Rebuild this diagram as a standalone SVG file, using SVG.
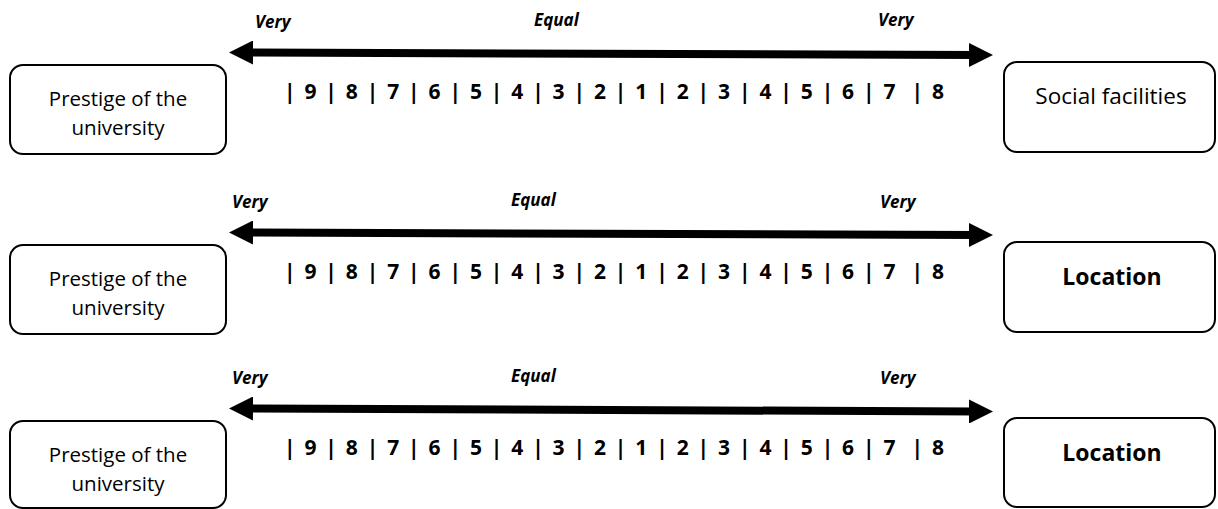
<svg xmlns="http://www.w3.org/2000/svg" width="1218" height="509" viewBox="0 0 1218 509">
  <defs>
    <marker id="head" markerUnits="userSpaceOnUse" viewBox="0 0 24 24" markerWidth="24" markerHeight="24" refX="8" refY="12" orient="auto-start-reverse">
      <path d="M0,0 L24,12 L0,24 Z" fill="#000"/>
    </marker>
    <style>
      .box { fill: #fff; stroke: #000; stroke-width: 2; }
      .lbl { font-family: "Open Sans", "Noto Sans", sans-serif; font-size: 20.5px; fill: #000; text-anchor: middle; }
      .soc { font-size: 22.5px; }
      .loc { font-family: "Open Sans", "Noto Sans", sans-serif; font-size: 23px; font-weight: bold; fill: #000; text-anchor: middle; }
      .scale { font-family: "Open Sans", "Noto Sans", sans-serif; font-size: 21px; font-weight: bold; fill: #000; white-space: pre; }
      .deg { font-family: "Open Sans", "Noto Sans", sans-serif; font-size: 17px; font-weight: bold; font-style: italic; fill: #000; }
      .arrow { stroke: #000; stroke-width: 8; fill: none; marker-start: url(#head); marker-end: url(#head); }
    </style>
  </defs>
  <rect width="1218" height="509" fill="#fff"/>

  <g id="connectors">
    <line class="arrow" x1="245" y1="52.5" x2="977" y2="55"/>
    <line class="arrow" x1="245" y1="232.5" x2="977" y2="235"/>
    <line class="arrow" x1="245" y1="408.5" x2="977" y2="411.5"/>
  </g>

  <g id="row1-left">
    <rect class="box" x="10" y="65" width="216" height="89" rx="13"/>
    <text class="lbl" x="118" y="106">Prestige of the</text>
    <text class="lbl" x="118" y="135">university</text>
  </g>
  <g id="row1-right">
    <rect class="box" x="1004" y="62" width="211" height="90" rx="13"/>
    <text class="lbl soc" x="1111" y="104">Social facilities</text>
  </g>
  <g id="row1-scale">
    <text class="deg" x="255" y="28">Very</text>
    <text class="deg" x="534" y="26">Equal</text>
    <text class="deg" x="878" y="26">Very</text>
    <text class="scale" x="284" y="99" textLength="660" lengthAdjust="spacing" xml:space="preserve">| 9 | 8 | 7 | 6 | 5 | 4 | 3 | 2 | 1 | 2 | 3 | 4 | 5 | 6 | 7  | 8</text>
  </g>

  <g id="row2-left">
    <rect class="box" x="10" y="245" width="216" height="89" rx="13"/>
    <text class="lbl" x="118" y="286">Prestige of the</text>
    <text class="lbl" x="118" y="315">university</text>
  </g>
  <g id="row2-right">
    <rect class="box" x="1004" y="242" width="211" height="90" rx="13"/>
    <text class="loc" x="1112" y="285">Location</text>
  </g>
  <g id="row2-scale">
    <text class="deg" x="232" y="208">Very</text>
    <text class="deg" x="511" y="206">Equal</text>
    <text class="deg" x="880" y="208">Very</text>
    <text class="scale" x="284" y="279" textLength="660" lengthAdjust="spacing" xml:space="preserve">| 9 | 8 | 7 | 6 | 5 | 4 | 3 | 2 | 1 | 2 | 3 | 4 | 5 | 6 | 7  | 8</text>
  </g>

  <g id="row3-left">
    <rect class="box" x="10" y="421" width="216" height="87" rx="13"/>
    <text class="lbl" x="118" y="462">Prestige of the</text>
    <text class="lbl" x="118" y="491">university</text>
  </g>
  <g id="row3-right">
    <rect class="box" x="1004" y="418" width="211" height="89" rx="13"/>
    <text class="loc" x="1112" y="461">Location</text>
  </g>
  <g id="row3-scale">
    <text class="deg" x="232" y="384">Very</text>
    <text class="deg" x="511" y="382">Equal</text>
    <text class="deg" x="880" y="384">Very</text>
    <text class="scale" x="284" y="455" textLength="660" lengthAdjust="spacing" xml:space="preserve">| 9 | 8 | 7 | 6 | 5 | 4 | 3 | 2 | 1 | 2 | 3 | 4 | 5 | 6 | 7  | 8</text>
  </g>
</svg>
